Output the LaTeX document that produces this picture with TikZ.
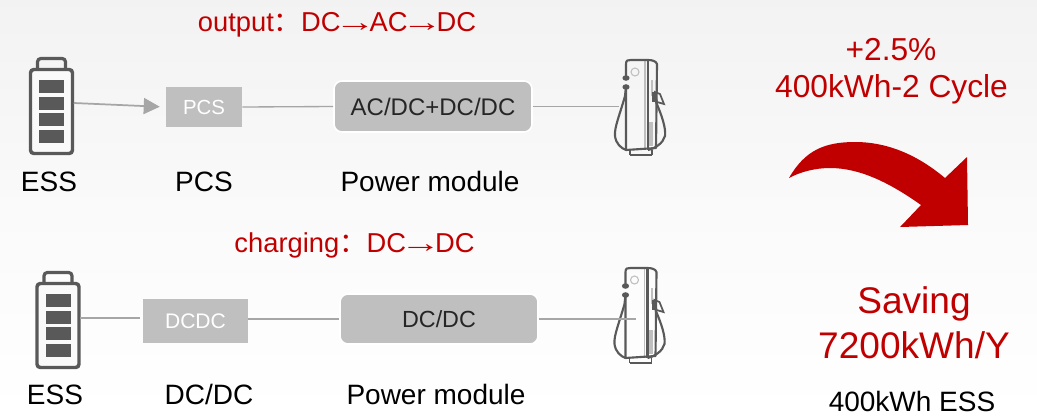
\documentclass[tikz,border=0pt]{standalone}
\usepackage{fontspec}
\usepackage{graphicx}
\setmainfont{Liberation Sans}
\newfontfamily\cjkfont{Noto Sans CJK SC}
\usetikzlibrary{arrows.meta}
\definecolor{redtxt}{HTML}{C00000}
\definecolor{boxgray}{HTML}{BFBFBF}
\definecolor{linegray}{HTML}{A6A6A6}
\definecolor{icon}{HTML}{595959}
\newcommand{\fs}[1]{\fontsize{#1}{#1}\selectfont}
\newcommand{\longarr}{\makebox[1.06em][c]{\scalebox{1.5}[1]{→}}}
\tikzset{
  x=0.75pt,y=-0.75pt,
  lbl/.style={anchor=base,inner sep=0pt,text=black},
  redlbl/.style={anchor=base,inner sep=0pt,text=redtxt},
  sqbox/.style={fill=boxgray,inner sep=0pt,text=white},
  modbox/.style={fill=boxgray,draw=white,line width=1.2pt,rounded corners=6pt,inner sep=0pt,text=black!85},
  conn/.style={draw=linegray,line width=1pt},
  iconbox/.style={inner sep=0pt},
  pics/battery/.style={code={
    \draw[icon,line width=2.6pt,rounded corners=2.5pt,fill=white!98!black] (-21,-36) rectangle (21,48);
    \draw[icon,line width=2.4pt,rounded corners=2.5pt] (-14,-36) -- (-14,-47) -- (14,-47) -- (14,-36);
    \fill[icon] (-12.5,-26) rectangle (12.5,-13);
    \fill[icon] (-12.5,-9) rectangle (12.5,4);
    \fill[icon] (-12.5,7) rectangle (12.5,20);
    \fill[icon] (-12.5,24) rectangle (12.5,37);
  }},
  pics/charger/.style={code={
    \draw[boxgray,line width=1pt] (5,-46) -- (5,44);
    \draw[boxgray,line width=0.8pt] (-5,-34) circle (4);
    \draw[boxgray,line width=1.5pt] (12,-26) -- (12,-10);
    \fill[boxgray] (9,16) rectangle (13,40);
    \draw[icon,line width=1.6pt,line join=round] (-14,-28) -- (-14,-42) .. controls (-14,-46) and (-12,-46) .. (-9,-46) -- (8,-46) .. controls (12,-46) and (16,-45) .. (17,-42) -- (16,42) -- (-14,44) -- (-14,-18);
    \draw[icon,line width=1.6pt] (8,-46) -- (8,44);
    \draw[icon,line width=1.6pt] (-10,49) -- (12,49);
    \draw[icon,line width=1.2pt] (-10,44) -- (-10,49) (12,44) -- (12,49);
    \fill[icon] (-14,-28) ellipse (3.6 and 2.8);
    \fill[icon] (-14,-19) ellipse (3.6 and 2.8);
    \draw[icon,line width=1.6pt] (-14,-19) -- (-15,-10) .. controls (-20,8) and (-26,22) .. (-25,30) .. controls (-24,38) and (-19,42) .. (-14,44);
    \fill[icon] (12,-14) rectangle (16,-4);
    \draw[icon,line width=1.3pt] (15,-14) -- (20,-12) -- (24,-2) -- (17,-4) -- cycle;
    \draw[icon,line width=1.6pt] (16,-4) .. controls (22,10) and (26,22) .. (25,30) .. controls (23,37) and (16,42) .. (8,44);
  }}
}
\begin{document}
\begin{tikzpicture}
\useasboundingbox (0,0) rectangle (1037,415);
\shade[top color=black!5,bottom color=white,middle color=black!2,shading angle=0] (0,0) rectangle (1037,415);

% ---- row 1
\node[iconbox,minimum width=44*.75pt,minimum height=6pt] (bat1) at (51.5,103) {};
\pic at (51.5,105.5) {battery};
\node[sqbox,minimum width=76*.75pt,minimum height=40*.75pt,font=\fs{15.3}] (pcs) at (204,107) {PCS};
\node[modbox,minimum width=198*.75pt,minimum height=51*.75pt,font=\fs{18}] (acdc) at (433,106.5) {AC/DC+DC/DC};
\node[iconbox,minimum width=2pt,minimum height=2pt] (chg1) at (621,106.5) {};
\pic at (640,106) {charger};
\draw[conn,line width=1.3pt,-{Triangle[length=12pt,width=12pt]},shorten >=4.5pt] (bat1.east) -- (pcs.west);
\draw[conn] (pcs.east) -- (acdc.west);
\draw[conn] (acdc.east) -- (chg1.west);

% ---- row 2
\node[iconbox,minimum width=44*.75pt,minimum height=6pt] (bat2) at (58,318) {};
\pic at (58,319.5) {battery};
\node[sqbox,minimum width=105*.75pt,minimum height=44*.75pt,font=\fs{15.8}] (dcdc) at (195.5,321) {DCDC};
\node[modbox,minimum width=198*.75pt,minimum height=50*.75pt,font=\fs{17.5}] (dcmod) at (439,319) {DC/DC};
\node[iconbox,minimum width=2pt,minimum height=2pt] (chg2) at (638,319) {};
\pic at (639.5,314) {charger};
\draw[conn,shorten >=2pt] (bat2.east) -- ([yshift=2.25pt]dcdc.west);
\draw[conn] ([yshift=1.5pt]dcdc.east) -- (dcmod.west);
\draw[conn] (dcmod.east) -- (chg2.west);

% ---- labels
\node[redlbl,font=\fs{20.5}] (t1) at (337,31) {output{\cjkfont：}DC\longarr AC\longarr DC};
\node[redlbl,font=\fs{20.5}] (t2) at (354.5,252) {charging{\cjkfont：}DC\longarr DC};
\node[lbl,font=\fs{21}] (l1) at (49,191) {ESS};
\node[lbl,font=\fs{21}] (l2) at (204,191) {PCS};
\node[lbl,font=\fs{21}] (l3) at (430,191) {Power module};
\node[lbl,font=\fs{21}] (l4) at (55,404) {ESS};
\node[lbl,font=\fs{21}] (l5) at (209,404) {DC/DC};
\node[lbl,font=\fs{21}] (l6) at (436,404) {Power module};
\node[redlbl,font=\fs{23.8}] (r1) at (891,60) {+2.5\%};
\node[redlbl,font=\fs{23.8}] (r2) at (891.5,97) {400kWh-2 Cycle};
\node[redlbl,font=\fs{27.8}] (r3) at (914,313) {Saving};
\node[redlbl,font=\fs{27.8}] (r4) at (914,358) {7200kWh/Y};
\node[lbl,font=\fs{21}] (r5) at (912,411.5) {400kWh ESS};

% ---- curved arrow
\fill[redtxt] (789,178) .. controls (805,150) and (825,142) .. (855,142)
  .. controls (890,142) and (920,157) .. (945,178)
  -- (967,157) -- (968,225) -- (900,227) -- (921,205)
  .. controls (890,183) and (860,168) .. (830,168)
  .. controls (815,168) and (800,172) .. (789,178) -- cycle;
\end{tikzpicture}
\end{document}
